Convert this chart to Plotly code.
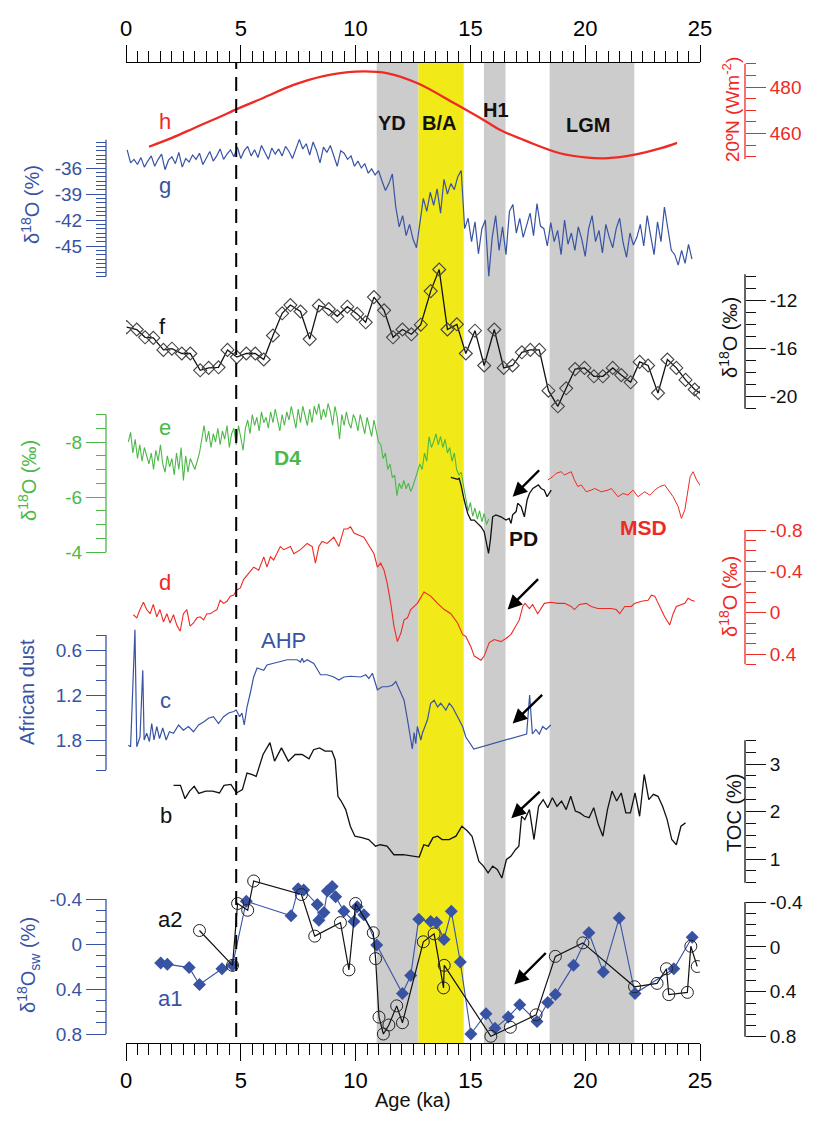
import plotly.graph_objects as go

# ---------------- data ----------------
# h : 20N insolation (W m-2)
h_age = [1.0, 2.0, 3.0, 4.0, 4.9, 6.0, 7.3, 8.6, 10.0, 11.4, 12.7, 14.3, 15.7, 16.3, 17.5, 18.9, 20.1, 21.0, 22.1, 23.3, 24.0]
h_val = [454.3, 458.1, 462.5, 466.8, 470.8, 475.4, 480.9, 484.7, 486.6, 485.9, 481.6, 473.0, 465.1, 461.5, 456.5, 451.5, 449.6, 449.4, 450.8, 453.7, 456.0]

# g : d18O (blue), sampled every 0.15 ka from 0.05 ka
g_start, g_step = 0.05, 0.15
g_val = [-33.9, -35.4, -35.0, -35.6, -34.8, -35.9, -35.2, -34.6, -35.8, -35.0, -34.4, -36.2, -35.1, -34.7, -35.5, -34.2,
         -35.9, -34.9, -35.3, -34.5, -35.0, -34.3, -35.6, -34.8, -34.1, -35.2, -34.6, -33.8, -35.0, -34.4, -33.9, -34.7,
         -33.6, -34.9, -34.0, -33.5, -34.6, -33.9, -34.8, -33.4, -34.2, -35.0, -33.7, -34.4, -33.8, -34.6, -33.5, -34.1, -34.9, -33.9,
         -32.7, -33.8, -33.2, -34.5, -33.0, -34.0, -35.4, -33.6, -34.2, -33.4, -34.7, -35.8, -34.0,
         -34.3, -35.0, -34.6, -35.8, -35.2, -36.0, -35.5, -36.6, -36.1, -36.8, -36.3,
         -37.5, -38.6, -37.8, -36.7, -40.5, -42.8, -41.5, -43.8, -42.5, -44.2, -45.2,
         -42.3, -39.5, -41.0, -38.8, -40.3, -38.4, -41.2, -37.3, -39.0, -37.8, -38.5, -37.0, -36.3,
         -43.0, -41.8, -44.5, -42.2, -45.9, -43.0,
         -42.0, -48.5, -44.0, -41.5, -45.5, -42.8, -46.0,
         -41.0, -40.2, -43.5, -41.8, -44.0, -42.5, -41.2, -43.8, -40.1, -42.7,
         -43.0, -45.0, -42.3, -44.5, -43.2, -46.0, -42.0, -44.8, -43.5, -45.5, -42.8, -44.2, -46.2, -43.0, -41.5, -44.5,
         -43.2, -45.8, -42.5, -44.0, -45.2, -43.0, -41.8, -44.6, -46.3, -43.5, -44.9,
         -44.0, -42.5, -45.0, -41.5, -43.8, -46.0, -42.2, -44.5, -40.5, -43.0, -45.5,
         -46.0, -47.2, -45.5, -47.0, -44.8, -46.5]

# f : d18O (black, diamonds)
f_age = [0.03, 0.47, 0.83, 1.19, 1.63, 2.0, 2.43, 2.8, 3.23, 3.6, 4.03, 4.42, 4.83, 5.24, 5.63, 6.0, 6.4, 6.8, 7.16, 7.6,
         8.0, 8.4, 8.83, 9.2, 9.64, 10.07, 10.44, 10.8, 11.24, 11.63, 12.04, 12.43, 12.84, 13.27, 13.64, 14.0, 14.41, 14.8,
         15.2, 15.6, 16.04, 16.45, 16.84, 17.24, 17.61, 18.0, 18.4, 18.81, 19.17, 19.56, 19.97, 20.38, 20.77, 21.2, 21.57,
         21.98, 22.37, 22.74, 23.17, 23.58, 23.97, 24.37, 24.77, 25.0]
f_val = [-14.2, -14.4, -15.05, -15.1, -16.1, -16.0, -16.4, -16.4, -17.8, -17.6, -17.55, -16.1, -16.7, -16.4, -16.4, -16.9,
         -14.9, -13.05, -12.36, -12.9, -15.2, -12.4, -12.7, -13.3, -12.5, -13.1, -13.8, -11.7, -12.8, -15.05, -14.4, -14.8,
         -14.0, -11.2, -9.4, -14.4, -13.97, -16.4, -14.5, -17.4, -14.4, -17.6, -17.4, -16.3, -16.1, -16.1, -19.5, -20.8,
         -19.3, -17.7, -17.6, -18.3, -18.3, -17.6, -18.2, -18.8, -17.1, -17.4, -19.7, -16.9, -17.6, -18.6, -19.4, -19.7]

# e : D4 d18O (green), sampled every 0.1 ka from 0.1 ka
e_start, e_step = 0.1, 0.1
e_val = [-8.0, -8.35, -7.6, -8.1, -7.4, -7.9, -7.3, -7.8, -7.5, -7.2,
         -7.6, -7.0, -7.7, -7.3, -7.9, -7.2, -6.9, -7.5, -7.1, -7.4,
         -6.8, -7.6, -7.0, -7.8, -6.6, -7.5, -6.9, -7.4, -7.2, -7.0,
         -7.3, -7.6, -8.1, -8.6, -8.0, -8.4, -7.8, -8.3, -8.0, -8.5,
         -7.9, -8.4, -8.1, -8.6, -7.8, -8.3, -8.5, -7.9, -8.6, -8.2,
         -7.7, -8.5, -8.8, -8.3, -9.0, -8.6, -8.9, -8.4, -9.1, -8.7,
         -8.9, -8.5, -9.1, -8.7, -9.2, -8.8, -8.4, -9.0, -8.6, -9.1,
         -8.8, -9.3, -8.9, -8.5, -9.2, -8.7, -9.3, -8.9, -8.6, -9.2,
         -8.7, -9.3, -9.0, -9.4, -8.8, -9.2, -8.9, -9.4, -9.1, -8.6,
         -9.3, -8.9, -8.1, -9.0, -8.6, -9.1, -8.7, -8.5, -9.0, -8.8,
         -8.4, -9.0, -8.7, -8.3, -8.9, -8.6, -8.2, -8.8, -8.4, -8.0,
         -7.9, -7.4, -7.6, -7.0, -7.2, -6.7, -6.8, -6.05, -6.5, -6.3,
         -6.6, -6.3, -6.5, -6.2, -6.4, -6.7, -6.9, -7.2, -7.0, -7.6,
         -7.3, -8.2, -7.8, -8.0, -8.3, -7.9, -8.2, -7.8, -8.1, -7.6,
         -7.8, -7.3, -7.6, -7.0, -6.8, -6.9, -6.4, -5.9, -5.5, -5.8,
         -5.3, -5.6, -5.2, -5.5, -5.1, -5.4, -5.0, -5.2]

# PD (black) and MSD (red) on the same d18O scale as e
pd_age = [14.15, 14.44, 14.51, 14.59, 14.73, 14.88, 15.02, 15.17, 15.31, 15.46, 15.60, 15.72, 15.79, 15.87, 15.97, 16.11,
          16.33, 16.55, 16.69, 16.77, 16.84, 16.99, 17.06, 17.21, 17.35, 17.47, 17.57, 17.72, 17.86, 17.96, 18.08, 18.22,
          18.34, 18.44, 18.52]
pd_val = [-6.71, -6.64, -6.68, -6.44, -5.89, -5.41, -5.16, -5.16, -5.04, -4.92, -4.74, -4.31, -3.95, -4.44, -5.28, -5.35,
          -5.28, -5.16, -5.22, -5.04, -5.35, -5.47, -5.77, -5.65, -5.28, -5.89, -6.13, -6.31, -6.38, -6.44, -6.31, -6.25,
          -6.01, -6.13, -6.25]
msd_age = [18.37, 18.59, 18.73, 18.95, 19.10, 19.24, 19.39, 19.53, 19.68, 19.83, 20.04, 20.26, 20.41, 20.70, 20.99, 21.14,
           21.43, 21.65, 21.86, 22.08, 22.30, 22.59, 22.81, 23.03, 23.25, 23.46, 23.61, 23.83, 24.05, 24.19, 24.34, 24.45,
           24.57, 24.70, 24.85, 24.99, 25.14, 25.24]
msd_val = [-6.62, -6.74, -6.86, -6.92, -6.80, -6.86, -6.92, -6.62, -6.38, -6.44, -6.19, -6.25, -6.31, -6.19, -6.25, -6.31,
           -6.01, -6.13, -6.07, -6.25, -6.01, -6.19, -6.07, -6.25, -6.38, -6.44, -6.25, -6.01, -5.65, -5.22, -5.53, -6.19,
           -6.74, -6.92, -6.62, -6.44, -6.25, -6.28]

# d : d18O (red)
d_age = [0.32, 0.47, 0.61, 0.76, 0.90, 1.05, 1.19, 1.34, 1.48, 1.63, 1.78, 1.92, 2.07, 2.21, 2.36, 2.50, 2.65, 2.79, 2.94, 3.09,
         3.23, 3.38, 3.52, 3.67, 3.81, 3.96, 4.10, 4.25, 4.40, 4.54, 4.69, 4.83, 4.98, 5.12, 5.34, 5.56, 5.78, 6.0, 6.14, 6.29,
         6.43, 6.72, 6.87, 7.16, 7.31, 7.6, 7.89, 8.11, 8.25, 8.4, 8.54, 8.76, 9.05, 9.27, 9.49, 9.64, 9.78, 9.93, 10.15, 10.36,
         10.58, 10.8, 10.95, 11.09, 11.24, 11.38, 11.53, 11.67, 11.82, 11.97, 12.11, 12.26, 12.40, 12.69, 12.98, 13.27, 13.57,
         13.86, 14.15, 14.44, 14.66, 14.8, 15.02, 15.17, 15.46, 15.6, 15.82, 16.04, 16.33, 16.55, 16.77, 16.99, 17.13, 17.28,
         17.38, 17.57, 17.71, 17.93, 18.22, 18.51, 18.81, 19.1, 19.39, 19.53, 19.75, 20.04, 20.26, 20.55, 20.84, 21.13, 21.35,
         21.5, 21.72, 22.01, 22.15, 22.45, 22.74, 22.88, 23.03, 23.17, 23.46, 23.68, 23.83, 23.97, 24.19, 24.34, 24.48, 24.63, 24.77]
d_val = [0.02, 0.05, -0.03, -0.10, -0.03, 0.01, -0.08, 0.04, -0.03, 0.09, 0.01, 0.10, 0.02, 0.12, 0.18, 0.01, -0.03, 0.13,
         0.10, 0.05, 0.04, 0.07, 0.01, 0.01, -0.01, -0.03, -0.12, -0.09, -0.11, -0.16, -0.17, -0.22, -0.24, -0.32, -0.38,
         -0.44, -0.41, -0.54, -0.44, -0.54, -0.51, -0.64, -0.61, -0.64, -0.57, -0.61, -0.67, -0.64, -0.48, -0.64, -0.69,
         -0.67, -0.73, -0.64, -0.81, -0.81, -0.83, -0.77, -0.75, -0.73, -0.65, -0.57, -0.44, -0.48, -0.41, -0.28, -0.09,
         0.13, 0.28, 0.20, 0.07, 0.05, -0.03, -0.09, -0.20, -0.16, -0.09, -0.03, 0.01, 0.10, 0.21, 0.23, 0.33, 0.42, 0.46,
         0.42, 0.29, 0.26, 0.28, 0.25, 0.21, 0.13, 0.07, -0.06, -0.09, -0.04, -0.08, 0.01, -0.09, -0.10, -0.09, -0.09, -0.06,
         -0.03, -0.08, -0.09, -0.06, -0.04, -0.04, -0.04, -0.03, 0.01, -0.06, -0.06, -0.09, -0.11, -0.12, -0.17, -0.16,
         -0.09, 0.04, 0.12, 0.01, -0.06, -0.08, -0.09, -0.14, -0.12, -0.11]

# c : African dust (blue)
c_age = [0.1, 0.2, 0.39, 0.47, 0.61, 0.73, 0.79, 0.90, 1.02, 1.12, 1.22, 1.34, 1.46, 1.60, 1.75, 1.89, 2.07, 2.29, 2.50, 2.72,
         2.94, 3.16, 3.38, 3.59, 3.81, 4.03, 4.25, 4.47, 4.69, 4.80, 4.95, 5.05, 5.15, 5.27, 5.41, 5.56, 5.71, 6.0, 6.14, 6.58,
         7.02, 7.45, 7.6, 7.67, 7.74, 7.89, 8.18, 8.47, 8.76, 9.05, 9.27, 9.49, 9.78, 10.22, 10.44, 10.58, 10.73, 10.95, 11.16,
         11.38, 11.6, 11.75, 11.89, 12.11, 12.26, 12.4, 12.47, 12.55, 12.62, 12.69, 12.84, 12.91, 13.13, 13.27, 13.42, 13.57,
         13.71, 13.93, 14.08, 14.22, 14.44, 14.66, 14.8, 15.15, 17.45, 17.58, 17.7, 17.85, 18.0, 18.15, 18.3, 18.5]
c_val = [1.87, 1.89, 0.33, 1.89, 1.76, 0.87, 1.80, 1.71, 1.82, 1.58, 1.80, 1.62, 1.78, 1.64, 1.80, 1.69, 1.71, 1.60, 1.67, 1.62,
         1.69, 1.60, 1.56, 1.51, 1.49, 1.58, 1.49, 1.44, 1.42, 1.40, 1.49, 1.44, 1.60, 1.36, 1.18, 0.96, 0.84, 0.87, 0.80, 0.76,
         0.73, 0.73, 0.76, 0.71, 0.76, 0.73, 0.78, 0.93, 0.93, 0.96, 1.00, 0.96, 0.95, 0.96, 0.93, 0.98, 0.91, 1.13, 1.09,
         1.09, 1.07, 1.02, 1.11, 1.27, 1.53, 1.80, 1.92, 1.70, 1.85, 1.62, 1.80, 1.71, 1.53, 1.31, 1.27, 1.36,
         1.31, 1.40, 1.31, 1.36, 1.49, 1.62, 1.76, 1.92, 1.72, 1.20, 1.72, 1.66, 1.72, 1.62, 1.66, 1.60]

# b : TOC (%)
b_age = [2.07, 2.37, 2.57, 2.77, 2.97, 3.17, 3.47, 3.77, 4.07, 4.27, 4.57, 4.81, 5.07, 5.27, 5.47, 5.67, 5.97, 6.27, 6.47, 6.77,
         7.07, 7.37, 7.67, 7.97, 8.17, 8.43, 8.67, 8.97, 9.11, 9.23, 9.37, 9.57, 9.77, 9.97, 10.27, 10.57, 10.87, 11.07, 11.37,
         11.67, 12.07, 12.47, 12.77, 12.97, 13.17, 13.37, 13.57, 13.77, 14.07, 14.37, 14.63, 14.87, 15.07, 15.37, 15.57, 15.77,
         15.97, 16.17, 16.37, 16.57, 16.77, 16.97, 17.11, 17.23, 17.37, 17.57, 17.77, 17.97, 18.17, 18.37, 18.57, 18.77, 18.97,
         19.17, 19.37, 19.57, 19.77, 19.97, 20.17, 20.37, 20.57, 20.77, 20.97, 21.17, 21.37, 21.57, 21.77, 21.97, 22.17, 22.37,
         22.57, 22.77, 22.97, 23.17, 23.37, 23.57, 23.77, 23.97, 24.17, 24.37]
b_val = [2.55, 2.55, 2.27, 2.43, 2.53, 2.38, 2.43, 2.43, 2.39, 2.55, 2.57, 2.39, 2.46, 2.81, 2.78, 2.74, 3.20, 3.45, 3.06, 3.34,
         3.06, 3.20, 3.20, 3.11, 3.30, 3.34, 3.27, 3.27, 3.09, 2.32, 2.22, 2.04, 1.69, 1.48, 1.45, 1.41, 1.27, 1.30, 1.27,
         1.09, 1.09, 1.06, 1.04, 1.30, 1.27, 1.45, 1.48, 1.41, 1.41, 1.48, 1.69, 1.59, 1.48, 0.95, 0.85, 0.71, 0.85, 0.78,
         0.60, 0.99, 1.06, 1.20, 1.27, 1.90, 1.83, 2.04, 1.41, 2.11, 2.25, 2.08, 2.29, 2.11, 2.22, 2.04, 2.32, 2.01, 1.97,
         1.90, 1.87, 2.08, 1.73, 1.48, 2.04, 2.43, 2.22, 2.39, 1.97, 1.97, 2.39, 1.90, 2.78, 2.25, 2.36, 2.32, 2.11, 1.83,
         1.41, 1.30, 1.69, 1.76]

# a1 (blue diamonds) and a2 (black circles): d18Osw
a1_age = [1.51, 1.80, 2.75, 3.20, 4.18, 4.64, 5.24, 7.19, 7.50, 7.74, 8.33, 8.40, 8.62, 8.77, 8.98, 9.13, 9.49, 9.93, 10.07,
          10.36, 10.92, 12.04, 12.40, 12.75, 13.27, 13.53, 13.85, 14.17, 14.56, 15.02, 15.68, 16.07, 16.65, 17.15, 17.90,
          18.37, 18.70, 19.49, 20.16, 20.79, 21.48, 22.17, 23.86, 24.66]
a1_val = [0.17, 0.18, 0.21, 0.36, 0.22, 0.19, -0.38, -0.25, -0.49, -0.48, -0.35, -0.21, -0.28, -0.47, -0.51, -0.42, -0.29,
          -0.20, -0.33, -0.26, 0.01, 0.44, 0.28, -0.22, -0.20, -0.19, -0.04, -0.29, 0.16, 0.80, 0.62, 0.75, 0.65, 0.54, 0.69,
          0.52, 0.45, 0.19, -0.10, 0.25, -0.23, 0.44, 0.22, -0.06]
a2_age = [3.20, 4.64, 4.86, 5.30, 5.56, 7.64, 8.22, 9.34, 9.71, 10.00, 10.77, 10.87, 11.02, 11.21, 11.45, 11.79, 12.04, 12.95,
          13.42, 13.83, 13.86, 15.89, 16.74, 17.86, 18.70, 19.90, 22.15, 23.13, 23.54, 23.64, 24.45, 24.60, 24.88]
a2_val = [-0.12, 0.19, -0.36, -0.30, -0.56, -0.44, -0.07, -0.19, 0.23, -0.36, -0.10, 0.13, 0.65, 0.80, 0.72, 0.55, 0.70,
          -0.02, -0.09, 0.39, 0.19, 0.82, 0.74, 0.63, 0.11, -0.01, 0.38, 0.35, 0.22, 0.45, 0.43, 0.02, 0.20]

# climate intervals (ka)
bands = [("YD", 10.92, 12.74, "grey"), ("B/A", 12.74, 14.71, "yellow"), ("H1", 15.59, 16.53, "grey"), ("LGM", 18.45, 22.14, "grey")]
dashed_age = 4.8

# ---------------- styling ----------------
RED = '#ee2a24'
BLUE = '#3853a4'
GREEN = '#4cb848'
BLACK = '#111111'
GREYBAND = '#cccccc'
YELLOW = '#f2e918'
FONT = 'Liberation Sans, Arial, Helvetica, sans-serif'
NARROW = 'Liberation Sans Narrow, Arial Narrow, Liberation Sans, Arial, sans-serif'

# page geometry (the html body adds an 8 px margin around the figure)
BODY = 8
W, H = 815 - 2 * BODY, 1122 - 2 * BODY
PAGE_L, PAGE_R, PAGE_T, PAGE_B = 100, 750, 63, 1043
ML, MR = PAGE_L - BODY, BODY + W - PAGE_R
MT, MB = PAGE_T - BODY, BODY + H - PAGE_B
PW, PH = PAGE_R - PAGE_L, PAGE_B - PAGE_T


def px(x):
    return (x - PAGE_L) / PW


def py(y):
    return (PAGE_B - y) / PH


def axis_range(v1, p1, v2, p2):
    k = (v2 - v1) / (p2 - p1)
    return [v1 + (PAGE_B - p1) * k, v1 + (PAGE_T - p1) * k]


def steps(a, b, s):
    n = int(round((b - a) / s))
    return [round(a + i * s, 4) for i in range(n + 1)]


LEFT, RIGHT = px(106), px(745)

fig = go.Figure()
g_age = [round(g_start + g_step * i, 3) for i in range(len(g_val))]
e_age = [round(e_start + e_step * i, 3) for i in range(len(e_val))]

fig.add_trace(go.Scatter(x=h_age, y=h_val, mode='lines', line=dict(color=RED, width=2.3, shape='spline'), yaxis='y'))
fig.add_trace(go.Scatter(x=g_age, y=g_val, mode='lines', line=dict(color=BLUE, width=1.2), yaxis='y2'))
fig.add_trace(go.Scatter(x=f_age, y=f_val, mode='lines+markers', line=dict(color=BLACK, width=1.3),
                         marker=dict(symbol='diamond-open', size=10, color='#444444', line=dict(width=1.1)), yaxis='y3'))
fig.add_trace(go.Scatter(x=e_age, y=e_val, mode='lines', line=dict(color=GREEN, width=1.1), yaxis='y4'))
fig.add_trace(go.Scatter(x=msd_age, y=msd_val, mode='lines', line=dict(color=RED, width=1.0), yaxis='y4'))
fig.add_trace(go.Scatter(x=pd_age, y=pd_val, mode='lines', line=dict(color=BLACK, width=1.3), yaxis='y4'))
fig.add_trace(go.Scatter(x=d_age, y=d_val, mode='lines', line=dict(color=RED, width=1.1), yaxis='y5'))
fig.add_trace(go.Scatter(x=c_age, y=c_val, mode='lines', line=dict(color=BLUE, width=1.2), yaxis='y6'))
fig.add_trace(go.Scatter(x=b_age, y=b_val, mode='lines', line=dict(color=BLACK, width=1.3), yaxis='y7'))
fig.add_trace(go.Scatter(x=a1_age, y=a1_val, mode='lines+markers', line=dict(color=BLUE, width=1.1),
                         marker=dict(symbol='diamond', size=10, color=BLUE), yaxis='y8'))
fig.add_trace(go.Scatter(x=a2_age, y=a2_val, mode='lines+markers', line=dict(color=BLACK, width=1.2),
                         marker=dict(symbol='circle-open', size=12, color='#222222', line=dict(width=1.0)), yaxis='y8'))
fig.add_trace(go.Scatter(x=[], y=[], xaxis='x2', yaxis='y9', showlegend=False))

# ---------------- axes ----------------
spines = []


def yax(name, color, side, rng, major, labels, minor, spine, overlay=True):
    d = dict(range=rng, domain=[0, 1], anchor='free', position=LEFT if side == 'left' else RIGHT, side=side,
             showline=False, showgrid=False, zeroline=False, fixedrange=True,
             tickmode='array', tickvals=major, ticktext=labels,
             ticks='outside', ticklen=20, tickwidth=1.3, tickcolor=color,
             tickfont=dict(family=FONT, size=19, color=color),
             minor=dict(tickmode='array', tickvals=minor, ticks='outside', ticklen=10, tickwidth=1.3,
                        tickcolor=color, showgrid=False))
    if overlay:
        d['overlaying'] = 'y'
    pos = d['position']
    spines.append(dict(type='line', xref='paper', yref=name, x0=pos, x1=pos, y0=spine[0], y1=spine[1],
                       line=dict(color=color, width=1.3)))
    return d


axes = {}
axes['yaxis'] = yax('y', RED, 'right', axis_range(480, 87, 460, 133.5), [460, 480], ['460', '480'],
                    [450, 455, 465, 470, 475, 485, 490], [449, 490], overlay=False)
axes['yaxis2'] = yax('y2', BLUE, 'left', axis_range(-36, 168, -45, 246), [-36, -39, -42, -45], ['-36', '-39', '-42', '-45'],
                     [v for v in steps(-48.5, -33.0, 0.5) if v not in (-36, -39, -42, -45)], [-32.75, -48.5])
axes['yaxis3'] = yax('y3', BLACK, 'right', axis_range(-12, 300.7, -20, 396.7), [-12, -16, -20], ['-12', '-16', '-20'],
                     [-10, -11, -13, -14, -15, -17, -18, -19, -21], [-9.8, -21])
axes['yaxis4'] = yax('y4', GREEN, 'left', axis_range(-8, 442, -4, 552), [-8, -6, -4], ['-8', '-6', '-4'],
                     [-9, -8.5, -7.5, -7, -6.5, -5.5, -5, -4.5], [-9, -4])
axes['yaxis5'] = yax('y5', RED, 'right', axis_range(-0.8, 530, 0.4, 654), [-0.8, -0.4, 0, 0.4], ['-0.8', '-0.4', '0', '0.4'],
                     [-0.7, -0.6, -0.5, -0.3, -0.2, -0.1, 0.1, 0.2, 0.3, 0.5], [-0.8, 0.5])
axes['yaxis6'] = yax('y6', BLUE, 'left', axis_range(0.6, 650, 1.8, 740), [0.6, 1.2, 1.8], ['0.6', '1.2', '1.8'],
                     [0.4, 0.8, 1.0, 1.4, 1.6, 2.0, 2.2], [0.4, 2.2])
axes['yaxis7'] = yax('y7', BLACK, 'right', axis_range(3, 764, 1, 859), [1, 2, 3], ['1', '2', '3'],
                     [v for v in steps(0.5, 3.5, 0.25) if v not in (1, 2, 3)], [0.5, 3.5])
axes['yaxis8'] = yax('y8', BLUE, 'left', axis_range(-0.4, 899, 0.8, 1034), [-0.4, 0, 0.4, 0.8], ['-0.4', '0', '0.4', '0.8'],
                     [v for v in steps(-0.4, 0.8, 0.1) if round(v, 1) not in (-0.4, 0.0, 0.4, 0.8)], [-0.4, 0.8])
axes['yaxis9'] = yax('y9', BLACK, 'right', axis_range(-0.4, 902, 0.8, 1036.7), [-0.4, 0, 0.4, 0.8], ['-0.4', '0', '0.4', '0.8'],
                     [v for v in steps(-0.4, 0.8, 0.1) if round(v, 1) not in (-0.4, 0.0, 0.4, 0.8)], [-0.4, 0.8])

xmajor = [0, 5, 10, 15, 20, 25]
xminor = [v for v in steps(0, 25, 0.5) if v not in xmajor]
xa = dict(domain=[px(126), px(700)], range=[0, 25], tickmode='array', tickvals=xmajor, ticktext=[str(v) for v in xmajor],
          ticks='outside', ticklen=17, tickwidth=1.3, tickcolor='black', showline=True, linecolor='black', linewidth=1.4,
          showgrid=False, zeroline=False, fixedrange=True, tickfont=dict(family=NARROW, size=22, color='black'),
          minor=dict(tickmode='array', tickvals=xminor, ticks='outside', ticklen=11, tickwidth=1.2, tickcolor='black'),
          anchor='y')
axes['xaxis'] = xa
axes['xaxis2'] = dict(xa, side='top', overlaying='x')

# ---------------- shapes ----------------
shapes = []
for name, a, b, kind in bands:
    shapes.append(dict(type='rect', xref='x', yref='paper', x0=a, x1=b, y0=0, y1=1, layer='below',
                       fillcolor=YELLOW if kind == 'yellow' else GREYBAND, line=dict(width=0)))
shapes.append(dict(type='line', xref='x', yref='paper', x0=dashed_age, x1=dashed_age, y0=py(1037), y1=1,
                   line=dict(color='black', width=2, dash='14px,8px')))
shapes += spines

# ---------------- annotations ----------------
ann = []


def txt(s, x, y, color, size=21, bold=False, angle=0, family=FONT):
    ann.append(dict(text=('<b>%s</b>' % s) if bold else s, x=px(x), y=py(y), xref='paper', yref='paper',
                    showarrow=False, textangle=angle, xanchor='center', yanchor='middle',
                    font=dict(family=family, size=size, color=color)))


# axis titles
txt('δ<sup>18</sup>O (%)', 31, 205, BLUE, 20, angle=-90)
txt('δ<sup>18</sup>O (‰)', 27, 481, GREEN, 20, angle=-90)
txt('African dust', 27, 692, BLUE, 20, angle=-90)
txt('δ<sup>18</sup>O<sub>sw</sub> (%)', 28, 965, BLUE, 20, angle=-90)
txt('20ºN (Wm<sup>-2</sup>)', 731, 110, RED, 19, angle=-90)
txt('δ<sup>18</sup>O (‰)', 728, 338, BLACK, 20, angle=-90)
txt('δ<sup>18</sup>O (‰)', 728, 597, RED, 20, angle=-90)
txt('TOC (%)', 734, 813, BLACK, 20, angle=-90)
txt('Age (ka)', 413, 1100, BLACK, 20, family=NARROW)

# panel labels
txt('h', 165, 122, RED, 22)
txt('g', 165, 186, BLUE, 22)
txt('f', 162, 326, BLACK, 22)
txt('e', 165, 427, GREEN, 22)
txt('d', 165, 582, RED, 22)
txt('c', 165, 700, BLUE, 22)
txt('b', 166, 815, BLACK, 22)
txt('a2', 170, 920, BLACK, 22)
txt('a1', 170, 998, BLUE, 22)
txt('AHP', 283, 640, BLUE, 22)
txt('D4', 287, 458, GREEN, 21, bold=True)
txt('PD', 523, 538, BLACK, 21, bold=True)
txt('MSD', 643, 527, RED, 21, bold=True)
txt('YD', 392, 123, BLACK, 20, bold=True, family=NARROW)
txt('B/A', 439, 123, BLACK, 20, bold=True, family=NARROW)
txt('H1', 496, 110, BLACK, 20, bold=True, family=NARROW)
txt('LGM', 588, 125, BLACK, 20, bold=True, family=NARROW)

# arrows
for xa_, ya_, yr, dx, dy in [(16.84, -6.01, 'y4', 28, -28), (16.62, -0.03, 'y5', 32, -32), (16.84, 1.58, 'y6', 31, -30),
                             (16.78, 1.86, 'y7', 30, -28), (16.91, 0.36, 'y8', 33, -33)]:
    ann.append(dict(x=xa_, y=ya_, xref='x', yref=yr, ax=dx, ay=dy, text='', showarrow=True, arrowhead=2,
                    arrowsize=1.2, arrowwidth=2.4, arrowcolor='black', standoff=0))

fig.update_layout(width=W, height=H, margin=dict(l=ML, r=MR, t=MT, b=MB), template='none',
                  paper_bgcolor='white', plot_bgcolor='rgba(0,0,0,0)', showlegend=False,
                  font=dict(family=FONT, color='black'), shapes=shapes, annotations=ann, **axes)

fig.write_html("out.html")
